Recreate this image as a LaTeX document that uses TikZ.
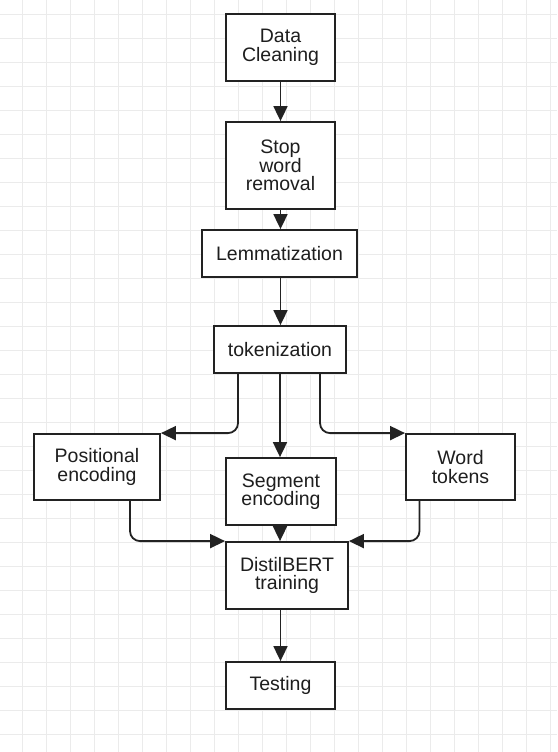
\documentclass[tikz,border=0pt]{standalone}
\usepackage{fontspec}
\setmainfont{Liberation Sans}
\usetikzlibrary{arrows.meta}
\definecolor{gridc}{RGB}{235,235,235}
\definecolor{linec}{RGB}{34,34,34}
\definecolor{textc}{RGB}{30,30,30}
\tikzset{
  box/.style={draw=linec, line width=1.8pt, fill=white, inner sep=0pt, align=center,
    text=textc, font=\fontsize{19.5}{18.5}\selectfont},
  arr/.style={draw=linec, line width=1.8pt, -{Triangle[length=15pt,width=14pt]}},
  conn/.style={arr, rounded corners=10pt}
}
\begin{document}
\begin{tikzpicture}[x=1pt,y=-1pt]
\useasboundingbox (0,0) rectangle (557,752);
\fill[white] (0,0) rectangle (557,752);
\foreach \k in {0,...,22} \draw[gridc, line width=1pt] (22.3+24*\k,0) -- (22.3+24*\k,752);
\foreach \k in {0,...,31} \draw[gridc, line width=1pt] (0,14.3+24*\k) -- (557,14.3+24*\k);

\node[box, minimum width=109pt, minimum height=67pt] (dc) at (280.5,47.5) {Data\\Cleaning};
\node[box, minimum width=109pt, minimum height=87pt] (sw) at (280.5,165.5) {Stop\\word\\removal};
\node[box, minimum width=155pt, minimum height=47pt] (lem) at (279.5,253.5) {Lemmatization};
\node[box, minimum width=132pt, minimum height=47pt] (tok) at (280,349.5) {tokenization};
\node[box, minimum width=126pt, minimum height=66pt] (pos) at (97,467) {Positional\\encoding};
\node[box, minimum width=110pt, minimum height=67pt] (seg) at (281,491.5) {Segment\\encoding};
\node[box, minimum width=109pt, minimum height=66pt] (wt) at (460.5,467) {Word\\tokens};
\node[box, minimum width=122pt, minimum height=67pt] (db) at (287,575.5) {DistilBERT\\training};
\node[box, minimum width=109pt, minimum height=47pt] (test) at (280.5,685.5) {Testing};

\draw[arr] (dc.south) -- (sw.north);
\draw[arr] (sw.south) -- (sw.south |- lem.north);
\draw[arr] (sw.south |- lem.south) -- (sw.south |- tok.north);
\draw[conn] ([xshift=-42pt]tok.south) |- (pos.north east);
\draw[arr] (tok.south) -- (tok.south |- seg.north);
\draw[conn] ([xshift=40pt]tok.south) |- (wt.north west);
\draw[conn] ([xshift=33pt]pos.south) |- (db.north west);
\draw[arr] ([xshift=-1pt]seg.south) -- ([xshift=-1pt]seg.south |- db.north);
\draw[conn] ([xshift=-41pt]wt.south) |- (db.north east);
\draw[arr] (test.north |- db.south) -- (test.north);
\end{tikzpicture}
\end{document}
